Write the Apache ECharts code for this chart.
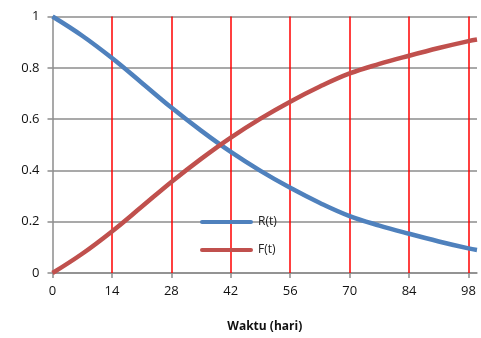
<!DOCTYPE html>
<html>
<head>
<meta charset="utf-8">
<script src="https://cdn.jsdelivr.net/npm/echarts@6/dist/echarts.min.js"></script>
<style>html,body{margin:0;padding:0;background:#fff}#c{width:481px;height:338px}</style>
</head>
<body>
<div id="c"></div>
<script>
var tValues = [0, 7, 14, 21, 28, 35, 42, 49, 56, 63, 70, 77, 84, 91, 98, 100];
var rValues = [1.000, 0.925, 0.838, 0.742, 0.645, 0.555, 0.472, 0.398, 0.332, 0.273, 0.222, 0.185, 0.153, 0.123, 0.096, 0.090];
var fValues = [0.000, 0.075, 0.162, 0.258, 0.355, 0.445, 0.528, 0.602, 0.668, 0.727, 0.778, 0.815, 0.847, 0.877, 0.904, 0.910];
var xTicks = [0, 14, 28, 42, 56, 70, 84, 98];
var redLines = [14, 28, 42, 56, 70, 84, 98];
var yTicks = [0, 0.2, 0.4, 0.6, 0.8, 1];
var seriesNames = ['R(t)', 'F(t)'];
var xTitle = 'Waktu (hari)';

function pairs(vals) { return tValues.map(function (t, i) { return [t, vals[i]]; }); }

var font = '"Open Sans", "Liberation Sans", sans-serif';
var gray = '#8c8c8c';
var chart = echarts.init(document.getElementById('c'), null, { renderer: 'canvas' });
chart.setOption({
  animation: false,
  backgroundColor: '#fff',
  grid: { left: 52.5, right: 4, top: 16.5, bottom: 58.7, containLabel: false },
  legend: {
    orient: 'vertical', left: 200, top: 216, padding: 0, itemWidth: 53, itemHeight: 14, itemGap: 16,
    textStyle: { fontFamily: font, fontSize: 12, color: '#222' },
    data: seriesNames.map(function (n) { return { name: n, icon: 'path://M2,0L51,0A2,2,0,0,1,51,4L2,4A2,2,0,0,1,2,0Z' }; })
  },
  xAxis: {
    type: 'value', min: 0, max: 100, interval: 14,
    name: xTitle, nameLocation: 'middle', nameGap: 48,
    nameTextStyle: { fontFamily: font, fontSize: 12, fontWeight: 'bold', color: '#111' },
    axisLine: { show: true, lineStyle: { color: gray, width: 1.5 } },
    axisTick: { show: true, inside: false, length: 5, customValues: xTicks, lineStyle: { color: gray, width: 1.5 } },
    axisLabel: { customValues: xTicks, margin: 12, fontFamily: font, fontSize: 13, color: '#111' },
    splitLine: { show: false }
  },
  yAxis: {
    type: 'value', min: 0, max: 1, interval: 0.2,
    axisLine: { show: true, lineStyle: { color: gray, width: 1.5 } },
    axisTick: { show: true, inside: false, length: 5, lineStyle: { color: gray, width: 1.5 } },
    axisLabel: { margin: 13, fontFamily: font, fontSize: 13, color: '#111',
      formatter: function (v) { return String(Math.round(v * 10) / 10); } },
    splitLine: { show: true, lineStyle: { color: gray, width: 1.5 } }
  },
  series: [
    {
      name: seriesNames[0], type: 'line', smooth: 0.4, symbol: 'none', showSymbol: false,
      data: pairs(rValues), z: 3,
      lineStyle: { color: '#4F81BD', width: 4.5 }, itemStyle: { color: '#4F81BD' },
      markLine: {
        silent: true, symbol: 'none', label: { show: false }, z: 1,
        lineStyle: { color: '#ff0000', width: 1.5, type: 'solid' },
        data: redLines.map(function (v) { return { xAxis: v }; })
      }
    },
    {
      name: seriesNames[1], type: 'line', smooth: 0.4, symbol: 'none', showSymbol: false,
      data: pairs(fValues), z: 3,
      lineStyle: { color: '#C0504D', width: 4.5 }, itemStyle: { color: '#C0504D' }
    }
  ]
});
</script>
</body>
</html>
